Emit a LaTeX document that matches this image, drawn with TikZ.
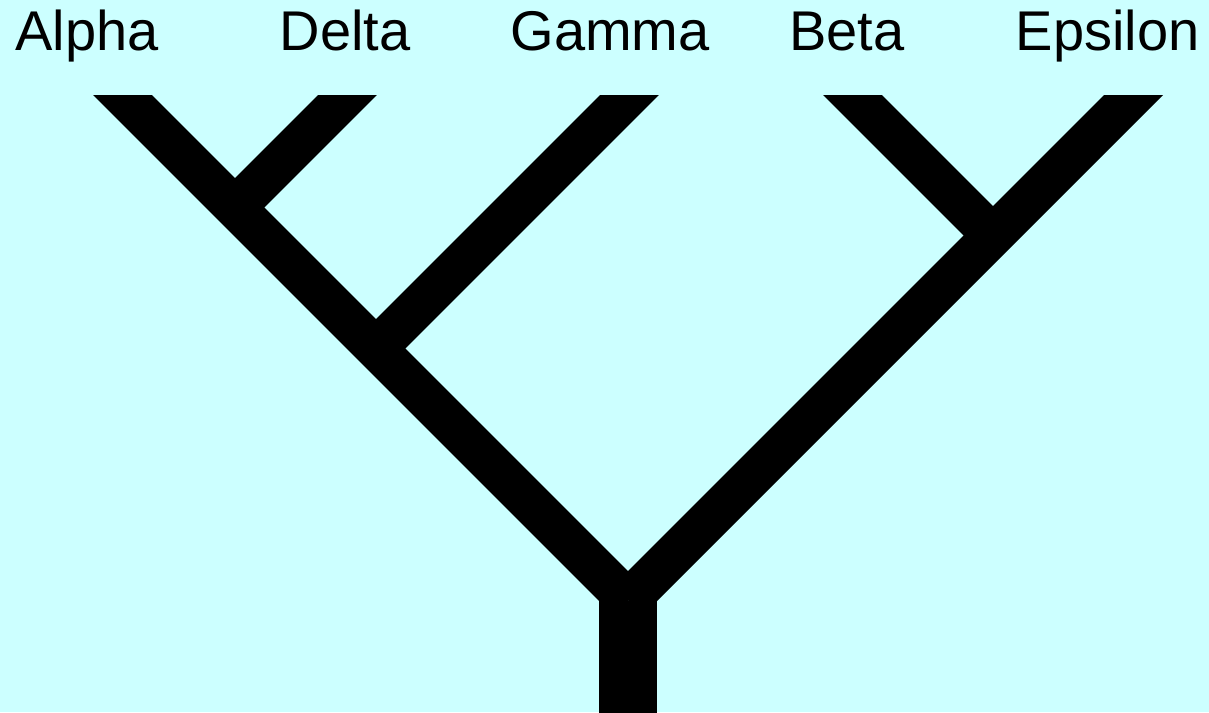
\documentclass[tikz,border=0pt]{standalone}
\usepackage{fontspec}
\setmainfont{Liberation Sans}
\usepackage{tikz}
\usetikzlibrary{calc,positioning}

\begin{document}
\begin{tikzpicture}[
    x=0.5pt, y=-0.5pt,
    every node/.style={font=\fontsize{28}{33}\selectfont},
    taxon/.style={anchor=base, inner sep=0pt},
    branch/.style={line width=20.85pt, black},
    trunk/.style={line width=29pt, black},
  ]
    \definecolor{bgcyan}{HTML}{CCFFFF}

    % background and page size
    \fill[bgcyan] (0,0) rectangle (1209,712);
    \useasboundingbox (0,0) rectangle (1209,712);

    % taxon names
    \node[taxon] (alpha) at (87,50) {Alpha};
    \node[taxon] (delta) at (345,50) {Delta};
    \node[taxon] (gamma) at (610,50) {Gamma};
    \node[taxon] (beta) at (847,50) {Beta};
    \node[taxon] (epsilon) at (1107.5,50) {Epsilon};

    % branch tips (above the cut) and junctions
    \coordinate (tA) at (87.5,60);
    \coordinate (tD) at (382.5,60);
    \coordinate (tG) at (664.5,60);
    \coordinate (tB) at (817.5,60);
    \coordinate (tE) at (1168.5,60);
    \coordinate (jAD) at (235,207.5);
    \coordinate (jG) at (376,348.5);
    \coordinate (jBE) at (993,235.5);
    \coordinate (root) at (628,600.5);
    \coordinate (base) at (628,720);

    % the tree, cut flat at the top
    \begin{scope}
      \clip (0,95) rectangle (1209,712);
      \draw[branch] (tA) -- (jAD) -- (jG) -- (root);
      \draw[branch] (tD) -- (jAD);
      \draw[branch] (tG) -- (jG);
      \draw[branch] (tB) -- (jBE);
      \draw[branch] (tE) -- (jBE) -- (root);
      \draw[trunk] (root) -- (base);
    \end{scope}
  \end{tikzpicture}
\end{document}
